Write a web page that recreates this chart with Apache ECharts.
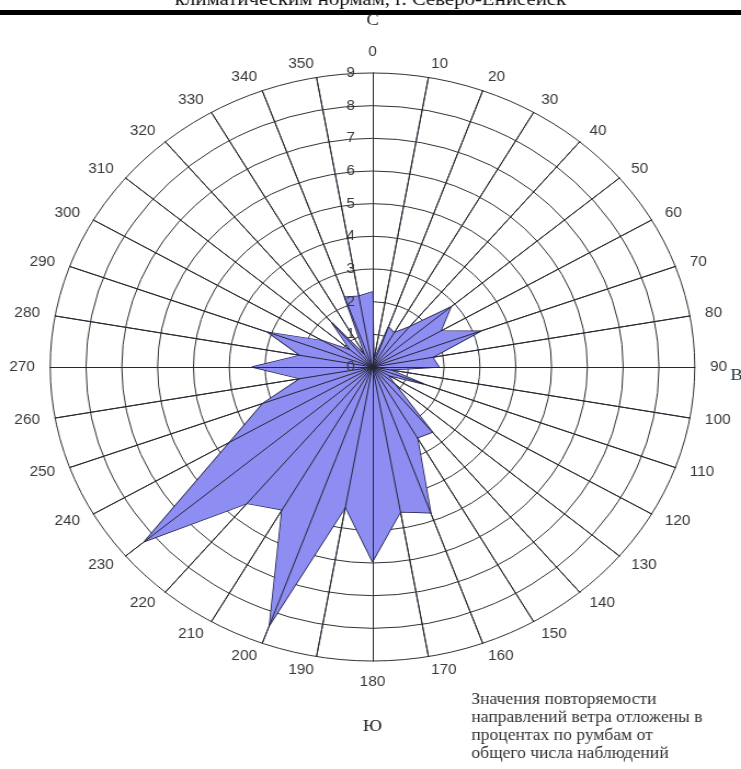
<!DOCTYPE html>
<html>
<head>
<meta charset="utf-8">
<script src="https://cdn.jsdelivr.net/npm/echarts@6/dist/echarts.min.js"></script>
<style>
  html, body { margin: 0; padding: 0; background: #fff; overflow: hidden; }
  /* исходная роза слегка растянута по горизонтали, поэтому растягиваем контейнер */
  #chart { width: 676px; height: 769px; transform: scaleX(1.0962); transform-origin: 0 0; }
</style>
</head>
<body>
<div id="chart"></div>
<script>
// направления (градусы) и повторяемость ветра, %
var directions = [0, 10, 20, 30, 40, 50, 60, 70, 80, 90, 100, 110,
                  120, 130, 140, 150, 160, 170, 180, 190, 200, 210, 220, 230,
                  240, 250, 260, 270, 280, 290, 300, 310, 320, 330, 340, 350];
var windFreq = [2.3, 0.2, 1.3, 1.2, 1.6, 2.85, 2.2, 3.2, 1.7, 1.85, 0.5, 1.5,
                0.5, 0.8, 2.6, 2.5, 4.75, 4.5, 5.95, 4.35, 8.4, 5.05, 5.45, 8.3,
                4.6, 3.25, 2.05, 3.35, 2.05, 3.1, 1.6, 0.8, 1.75, 0.4, 2.27, 2.2];
var ringMax = 9;
var caption = 'климатическим нормам, г. Северо-Енисейск';
var note = 'Значения повторяемости\nнаправлений ветра отложены в\nпроцентах по румбам от\nобщего числа наблюдений';

var chart = echarts.init(document.getElementById('chart'));

// radar в echarts идёт против часовой стрелки — переставляем порядок
var order = [0];
for (var i = directions.length - 1; i > 0; i--) order.push(i);

var center = [339.8, 367];
var R = 294;

var option = {
    backgroundColor: '#fff',
    animation: false,
    radar: [
        {
            center: center,
            radius: R,
            startAngle: 90,
            shape: 'circle',
            splitNumber: ringMax,
            nameGap: 14,
            z: 0,
            indicator: order.map(function (i) {
                return { name: String(directions[i]), min: 0, max: ringMax };
            }),
            axisName: { color: '#3a3a3a', fontSize: 14, fontFamily: 'Liberation Sans, Arial' },
            splitLine: { lineStyle: { color: '#333', width: 1 } },
            splitArea: { show: false },
            axisLine: { lineStyle: { color: '#333', width: 1 } }
        },
        {
            // лучи поверх заливки
            center: center,
            radius: R,
            startAngle: 90,
            shape: 'circle',
            splitNumber: ringMax,
            z: 5,
            indicator: order.map(function (i) {
                return { name: '', min: 0, max: ringMax };
            }),
            axisName: { show: false },
            splitLine: { show: false },
            splitArea: { show: false },
            axisLine: { lineStyle: { color: '#262636', width: 1 } }
        }
    ],
    polar: { center: center, radius: R },
    angleAxis: { show: false, startAngle: 90, min: 0, max: 360 },
    radiusAxis: {
        min: 0, max: ringMax, interval: 1, z: 10,
        axisLine: { show: false },
        axisTick: { show: false },
        splitLine: { show: false },
        axisLabel: { color: '#3a3a3a', fontSize: 14, margin: 16, fontFamily: 'Liberation Sans, Arial' }
    },
    series: [{
        type: 'radar',
        radarIndex: 0,
        symbol: 'none',
        z: 2,
        lineStyle: { color: '#1c1c40', width: 1.5 },
        areaStyle: { color: '#8d8df2', opacity: 1 },
        data: [{ value: order.map(function (i) { return windFreq[i]; }) }]
    }],
    graphic: [
        { type: 'text', left: 'center', top: -9,
          style: { text: caption, font: '19px "Liberation Serif"', fill: '#111' } },
        { type: 'rect', shape: { x: 0, y: 10, width: 676, height: 5 }, style: { fill: '#000' } },
        { type: 'text', x: 339.8, y: 21,
          style: { text: 'С', font: '17px "Liberation Serif"', fill: '#222', align: 'center', verticalAlign: 'middle' } },
        { type: 'text', x: 672, y: 376,
          style: { text: 'В', font: '17px "Liberation Serif"', fill: '#2d3a4a', align: 'center', verticalAlign: 'middle' } },
        { type: 'text', x: 339.8, y: 727,
          style: { text: 'Ю', font: '17px "Liberation Serif"', fill: '#222', align: 'center', verticalAlign: 'middle' } },
        { type: 'text', x: 430, y: 691,
          style: { text: note, font: '16px "Liberation Serif"', lineHeight: 18, fill: '#333' } }
    ]
};

chart.setOption(option);
</script>
</body>
</html>
